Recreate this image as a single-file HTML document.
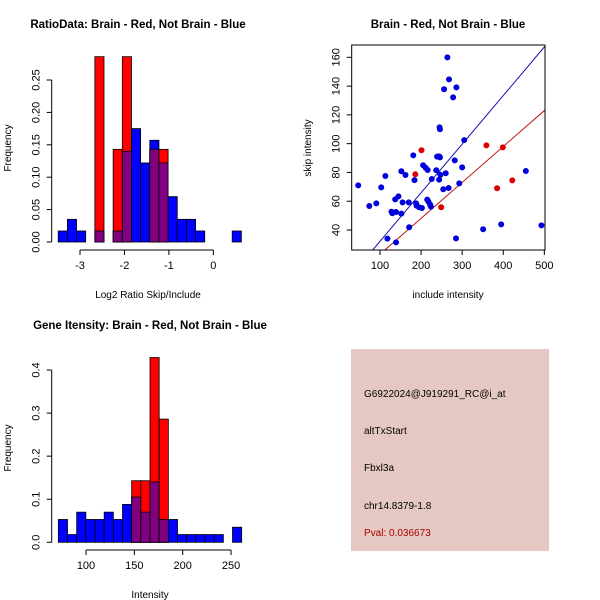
<!DOCTYPE html>
<html><head><meta charset="utf-8"><style>
html,body{margin:0;padding:0;background:#fff}
svg{display:block;font-family:"Liberation Sans",sans-serif}
</style></head><body>
<svg id="s" width="600" height="600" viewBox="0 0 600 600"></svg>
<script>
// ---- Data: top-left ratio histogram ----
const ratioBinStart = -3.49;
const ratioBinWidth = 0.206;
const ratioBlue = [0.017,0.035,0.017,0,0.017,0,0.017,0.14,0.175,0.122,0.157,0.122,0.07,0.035,0.035,0.017,0,0,0,0.017];
const ratioRed  = [0,0,0,0,0.286,0,0.143,0.286,0,0,0.143,0.143,0,0,0,0,0,0,0,0];
const ratioXTicks = [-3,-2,-1,0];
const ratioYTicks = [0,0.05,0.10,0.15,0.20,0.25];
const ratioYLabels = ["0.00","0.05","0.10","0.15","0.20","0.25"];
// ---- Data: scatter ----
const blueX = [47,74,91,103,113,118,128,130,137,139,145,139,152,152,155,162,170,171,181,184,188,189,195,202,205,211,216,215,218,222,224,226,237,239,244,246,247,244,245,246,256,264,268,286,278,282,260,267,254,293,300,305,285,351,395,455,493];
const blueY = [71,56.7,58.5,69.6,77.5,34,52.7,51.6,61.3,52.5,63.4,31.4,80.8,51.4,59.2,78.2,59.2,41.9,91.9,74.7,58.5,56.9,55.8,55.3,85,83.3,81.7,61.1,59.7,57.6,56.2,75.4,81.5,91,91.2,90.5,78.4,75,111.3,110,137.8,160,144.7,139.1,132.2,88.4,79.4,69.2,68.3,72.4,83.5,102.5,34.2,40.5,43.9,81,43.2];
const redX = [201,186,249,359,399,385,422];
const redY = [95.4,78.7,55.8,98.8,97.4,69,74.5];
const blueFit = [-1.6,0.3375];
const redFit = [-1.8,0.2495];
const scXTicks = [100,200,300,400,500];
const scYTicks = [40,60,80,100,120,140,160];
// ---- Data: gene intensity histogram ----
const geneBinStart = 71.4;
const geneBinWidth = 9.48;
const geneBlue = [0.053,0.018,0.07,0.053,0.053,0.07,0.053,0.088,0.105,0.07,0.14,0.053,0.053,0.018,0.018,0.018,0.018,0.018,0,0.035];
const geneRed  = [0,0,0,0,0,0,0,0,0.143,0.143,0.429,0.286,0,0,0,0,0,0,0,0];
const geneXTicks = [100,150,200,250];
const geneYTicks = [0,0.1,0.2,0.3,0.4];
const geneYLabels = ["0.0","0.1","0.2","0.3","0.4"];

const S = document.getElementById('s');
const NS = 'http://www.w3.org/2000/svg';
function mk(tag, attrs, parent){const e=document.createElementNS(NS,tag);for(const k in attrs)e.setAttribute(k,attrs[k]);(parent||S).appendChild(e);return e;}
function txt(str, x, y, opts, parent){const e=mk('text',Object.assign({x:x,y:y,'font-size':11,'text-anchor':'middle',fill:'#000'},opts||{}),parent);e.textContent=str;return e;}

function histogram(name, cfg){
  const g = mk('g',{});
  
  
  const sx = v => cfg.x0 + (v - cfg.xv0) * cfg.kx;
  const sy = v => cfg.y0 - v * cfg.ky;
  const n = cfg.blue.length;
  for (let i=0;i<n;i++){
    const a = cfg.start + i*cfg.width, b = a + cfg.width;
    const x1 = sx(a), x2 = sx(b);
    const layers = [];
    if (cfg.blue[i]>0) layers.push(['#0000ff', cfg.blue[i], 'blue']);
    if (cfg.red[i]>0) layers.push(['#ff0000', cfg.red[i], 'red']);
    if (cfg.blue[i]>0 && cfg.red[i]>0) layers.push(['#800080', Math.min(cfg.blue[i],cfg.red[i]), 'overlap']);
    layers.forEach(L=>{
      const r = mk('rect',{x:x1,y:sy(L[1]),width:x2-x1,height:sy(0)-sy(L[1]),fill:L[0],stroke:'#000','stroke-width':0.8},g);
      
      
    });
  }
  const ax = mk('g',{},g);
  
  
  const xt = cfg.xTicks;
  mk('line',{x1:sx(xt[0]),x2:sx(xt[xt.length-1]),y1:cfg.axY,y2:cfg.axY,stroke:'#000'},ax);
  xt.forEach(t=>{mk('line',{x1:sx(t),x2:sx(t),y1:cfg.axY,y2:cfg.axY+5,stroke:'#000'},ax);txt(String(t),sx(t),cfg.axY+19,{},ax);});
  const ay = mk('g',{},g);
  
  
  const yt = cfg.yTicks;
  mk('line',{x1:cfg.axX,x2:cfg.axX,y1:sy(yt[0]),y2:sy(yt[yt.length-1]),stroke:'#000'},ay);
  yt.forEach((t,i)=>{mk('line',{x1:cfg.axX-5,x2:cfg.axX,y1:sy(t),y2:sy(t),stroke:'#000'},ay);
    txt(cfg.yLabels[i],cfg.axX-12,sy(t),{transform:'rotate(-90 '+(cfg.axX-12)+' '+sy(t)+')'},ay);});
  const t1 = txt(cfg.title,cfg.titleX,cfg.titleY,{'font-weight':'bold','font-size':11.5},g);
  
  
  const t2 = txt(cfg.xlab,cfg.xlabX,cfg.xlabY,{'font-size':10},g);
  
  
  const t3 = txt('Frequency',11,cfg.ylabY,{'font-size':10,transform:'rotate(-90 11 '+cfg.ylabY+')'},g);
  
  
}

histogram('ratio-histogram',{
  start:ratioBinStart,width:ratioBinWidth,blue:ratioBlue,red:ratioRed,
  x0:80,xv0:-3,kx:44.45,y0:242,ky:648,
  xTicks:ratioXTicks,yTicks:ratioYTicks,yLabels:ratioYLabels,axY:250,axX:51.7,
  title:'RatioData: Brain - Red, Not Brain - Blue',titleX:138,titleY:28,
  xlab:'Log2 Ratio Skip/Include',xlabX:148,xlabY:298,ylabY:148});

histogram('gene-intensity-histogram',{
  start:geneBinStart,width:geneBinWidth,blue:geneBlue,red:geneRed,
  x0:86,xv0:100,kx:0.967,y0:542.3,ky:430.7,
  xTicks:geneXTicks,yTicks:geneYTicks,yLabels:geneYLabels,axY:550,axX:51.7,
  title:'Gene Itensity: Brain - Red, Not Brain - Blue',titleX:150,titleY:329,
  xlab:'Intensity',xlabX:150,xlabY:598,ylabY:448});

// ---- Scatter ----
(function(){
  const g = mk('g',{});
  
  
  const L=351.7,R=545,T=45,B=250;
  const sx = v => 380 + (v-100)*0.4108;
  const sy = v => 230 - (v-40)*1.439;
  mk('defs',{},g).innerHTML='<clipPath id="cp"><rect x="'+L+'" y="'+T+'" width="'+(R-L)+'" height="'+(B-T)+'"/></clipPath>';
  const fits=[[blueFit,'#1010b0','blue-fit-line'],[redFit,'#c01010','red-fit-line']];
  const xmin=(L-380)/0.4108+100, xmax=(R-380)/0.4108+100;
  fits.forEach(f=>{
    const ln = mk('line',{x1:sx(xmin),y1:sy(f[0][0]+f[0][1]*xmin),x2:sx(xmax),y2:sy(f[0][0]+f[0][1]*xmax),stroke:f[1],'stroke-width':1,'clip-path':'url(#cp)'},g);
    
    
  });
  blueX.forEach((x,i)=>{const c=mk('circle',{cx:sx(x),cy:sy(blueY[i]),r:3,fill:'#0000dd'},g);
    
    });
  redX.forEach((x,i)=>{const c=mk('circle',{cx:sx(x),cy:sy(redY[i]),r:3,fill:'#dd0000'},g);
    
    });
  const box = mk('rect',{x:L,y:T,width:R-L,height:B-T,fill:'none',stroke:'#000'},g);
  
  
  scXTicks.forEach(t=>{mk('line',{x1:sx(t),x2:sx(t),y1:B,y2:B+5,stroke:'#000'},g);txt(String(t),sx(t),B+19,{},g);});
  scYTicks.forEach(t=>{mk('line',{x1:L-5,x2:L,y1:sy(t),y2:sy(t),stroke:'#000'},g);
    txt(String(t),L-12,sy(t),{transform:'rotate(-90 '+(L-12)+' '+sy(t)+')'},g);});
  const t1=txt('Brain - Red, Not Brain - Blue',448,28,{'font-weight':'bold','font-size':11.5},g);
  
  
  const t2=txt('include intensity',448,298,{'font-size':10},g);
  
  
  const t3=txt('skip intensity',311,148,{'font-size':10,transform:'rotate(-90 311 148)'},g);
  
  
})();

// ---- Info panel ----
(function(){
  const g = mk('g',{});
  
  
  mk('rect',{x:351,y:349,width:198,height:202,fill:'#e6c8c2'},g);
  const lines=[['G6922024@J919291_RC@i_at',397,'#000','probe-id'],['altTxStart',434,'#000','event-type'],['Fbxl3a',471,'#000','gene-name'],['chr14.8379-1.8',509,'#000','location'],['Pval: 0.036673',536,'#aa0000','p-value']];
  lines.forEach(l=>{const t=txt(l[0],364,l[1],{'text-anchor':'start','font-size':10,fill:l[2]},g);
    
    });
})();
</script>
</body></html>
